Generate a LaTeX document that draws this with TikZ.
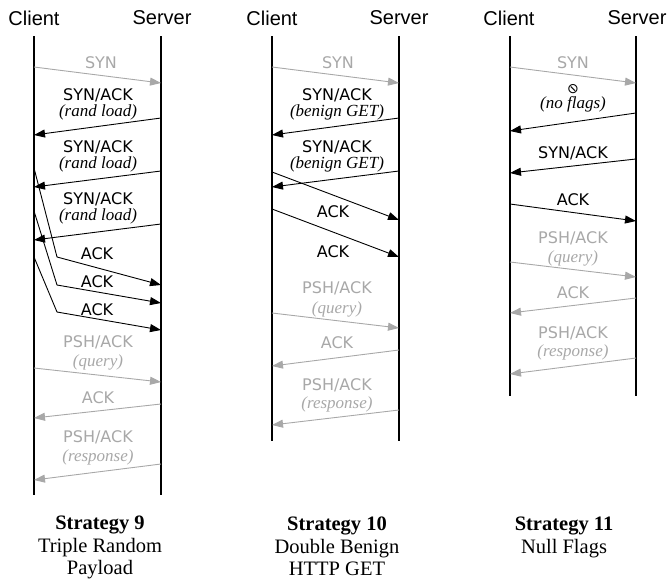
\documentclass[tikz,border=0pt]{standalone}
\usepackage{fontspec}
\setmainfont{Liberation Serif}
\newfontfamily\peerfont{Liberation Sans}
\newfontfamily\flagfont{DejaVu Sans}
\usetikzlibrary{arrows.meta,calc}
\definecolor{pale}{RGB}{168,168,168}

\begin{document}
\begin{tikzpicture}[x=1pt,y=-1pt]
	\tikzstyle{lifeline}=[line width=1.1pt];
	\tikzstyle{msg}=[line width=0.9pt, -{Triangle[length=11pt,width=8pt]}];
	\tikzstyle{faint}=[msg, pale];
	\tikzstyle{peer}=[font=\peerfont\fontsize{20}{24}\selectfont, inner sep=0pt];
	\tikzstyle{flag}=[font=\flagfont\fontsize{16}{19}\selectfont, inner sep=0pt];
	\tikzstyle{note}=[font=\itshape\fontsize{17}{20}\selectfont, inner sep=0pt];
	\tikzstyle{caption}=[font=\fontsize{20.5}{22.5}\selectfont, align=center, anchor=north, inner sep=0pt];

	\useasboundingbox (0,0) rectangle (667,584);

	\node[peer] (cl9) at (34,18) {Client};
	\node[peer] (sv9) at (162,18) {Server};
	\node[peer] (cl10) at (272,18) {Client};
	\node[peer] (sv10) at (399,18) {Server};
	\node[peer] (cl11) at (509,18) {Client};
	\node[peer] (sv11) at (637,18) {Server};

	% strategy 9
	\coordinate (c9_top) at (34,36);
	\coordinate (c9_bot) at (34,495);
	\coordinate (s9_top) at (161,36);
	\coordinate (s9_bot) at (161,495);
	\draw[lifeline] (c9_top) -- (c9_bot);
	\draw[lifeline] (s9_top) -- (s9_bot);

	\coordinate (c9_1) at (34,67);   \coordinate (s9_1) at (161,83);
	\coordinate (s9_2) at (161,118); \coordinate (c9_2) at (34,135);
	\coordinate (s9_3) at (161,171); \coordinate (c9_3) at (34,187);
	\coordinate (s9_4) at (161,224); \coordinate (c9_4) at (34,240);
	\coordinate (c9_5) at (34,168);  \coordinate (k9_5) at (57,257);  \coordinate (s9_5) at (161,285);
	\coordinate (c9_6) at (34,211);  \coordinate (k9_6) at (57,285);  \coordinate (s9_6) at (161,303);
	\coordinate (c9_7) at (34,257);  \coordinate (k9_7) at (57,312);  \coordinate (s9_7) at (161,330);
	\coordinate (c9_8) at (34,368);  \coordinate (s9_8) at (161,382);
	\coordinate (s9_9) at (161,404); \coordinate (c9_9) at (34,418);
	\coordinate (s9_10) at (161,464); \coordinate (c9_10) at (34,480);

	\draw[faint] (c9_1) -- (s9_1);
	\draw[msg] (s9_2) -- (c9_2);
	\draw[msg] (s9_3) -- (c9_3);
	\draw[msg] (s9_4) -- (c9_4);
	\draw[msg] (c9_5) -- (k9_5) -- (s9_5);
	\draw[msg] (c9_6) -- (k9_6) -- (s9_6);
	\draw[msg] (c9_7) -- (k9_7) -- (s9_7);
	\draw[faint] (c9_8) -- (s9_8);
	\draw[faint] (s9_9) -- (c9_9);
	\draw[faint] (s9_10) -- (c9_10);

	\node[flag, pale] (f9_1) at (101,63) {SYN};
	\node[flag] (f9_2) at (98,95) {SYN/ACK};
	\node[note] (n9_2) at ($(f9_2)+(0,17)$) {(rand load)};
	\node[flag] (f9_3) at (98,147) {SYN/ACK};
	\node[note] (n9_3) at ($(f9_3)+(0,17)$) {(rand load)};
	\node[flag] (f9_4) at (98,199) {SYN/ACK};
	\node[note] (n9_4) at ($(f9_4)+(0,17)$) {(rand load)};
	\node[flag] (f9_5) at (97,254) {ACK};
	\node[flag] (f9_6) at (97,282) {ACK};
	\node[flag] (f9_7) at (97,310) {ACK};
	\node[flag, pale] (f9_8) at (98,342) {PSH/ACK};
	\node[note, pale] (n9_8) at ($(f9_8)+(0,20)$) {(query)};
	\node[flag, pale] (f9_9) at (98,398) {ACK};
	\node[flag, pale] (f9_10) at (98,437) {PSH/ACK};
	\node[note, pale] (n9_10) at ($(f9_10)+(0,20)$) {(response)};

	\node[caption] (cap9) at (100,516) {\textbf{Strategy 9}\\Triple Random\\Payload};

	% strategy 10
	\coordinate (c10_top) at (272,36);
	\coordinate (c10_bot) at (272,441);
	\coordinate (s10_top) at (399,36);
	\coordinate (s10_bot) at (399,441);
	\draw[lifeline] (c10_top) -- (c10_bot);
	\draw[lifeline] (s10_top) -- (s10_bot);

	\coordinate (c10_1) at (272,67);  \coordinate (s10_1) at (399,83);
	\coordinate (s10_2) at (399,118); \coordinate (c10_2) at (272,135);
	\coordinate (s10_3) at (399,171); \coordinate (c10_3) at (272,187);
	\coordinate (c10_4) at (272,172); \coordinate (s10_4) at (399,220);
	\coordinate (c10_5) at (272,209); \coordinate (s10_5) at (399,257);
	\coordinate (c10_6) at (272,313); \coordinate (s10_6) at (399,328);
	\coordinate (s10_7) at (399,350); \coordinate (c10_7) at (272,366);
	\coordinate (s10_8) at (399,410); \coordinate (c10_8) at (272,425);

	\draw[faint] (c10_1) -- (s10_1);
	\draw[msg] (s10_2) -- (c10_2);
	\draw[msg] (s10_3) -- (c10_3);
	\draw[msg] (c10_4) -- (s10_4);
	\draw[msg] (c10_5) -- (s10_5);
	\draw[faint] (c10_6) -- (s10_6);
	\draw[faint] (s10_7) -- (c10_7);
	\draw[faint] (s10_8) -- (c10_8);

	\node[flag, pale] (f10_1) at (338,63) {SYN};
	\node[flag] (f10_2) at (337,95) {SYN/ACK};
	\node[note] (n10_2) at ($(f10_2)+(0,17)$) {(benign GET)};
	\node[flag] (f10_3) at (337,147) {SYN/ACK};
	\node[note] (n10_3) at ($(f10_3)+(0,17)$) {(benign GET)};
	\node[flag] (f10_4) at (333,212) {ACK};
	\node[flag] (f10_5) at (333,252) {ACK};
	\node[flag, pale] (f10_6) at (337,288) {PSH/ACK};
	\node[note, pale] (n10_6) at ($(f10_6)+(0,21)$) {(query)};
	\node[flag, pale] (f10_7) at (337,343) {ACK};
	\node[flag, pale] (f10_8) at (337,385) {PSH/ACK};
	\node[note, pale] (n10_8) at ($(f10_8)+(0,19)$) {(response)};

	\node[caption] (cap10) at (337,517) {\textbf{Strategy 10}\\Double Benign\\HTTP GET};

	% strategy 11
	\coordinate (c11_top) at (510,36);
	\coordinate (c11_bot) at (510,396);
	\coordinate (s11_top) at (636,36);
	\coordinate (s11_bot) at (636,396);
	\draw[lifeline] (c11_top) -- (c11_bot);
	\draw[lifeline] (s11_top) -- (s11_bot);

	\coordinate (c11_1) at (510,67);  \coordinate (s11_1) at (636,83);
	\coordinate (s11_2) at (636,113); \coordinate (c11_2) at (510,131);
	\coordinate (s11_3) at (636,159); \coordinate (c11_3) at (510,173);
	\coordinate (c11_4) at (510,204); \coordinate (s11_4) at (636,221);
	\coordinate (c11_5) at (510,262); \coordinate (s11_5) at (636,277);
	\coordinate (s11_6) at (636,298); \coordinate (c11_6) at (510,313);
	\coordinate (s11_7) at (636,358); \coordinate (c11_7) at (510,374);

	\draw[faint] (c11_1) -- (s11_1);
	\draw[msg] (s11_2) -- (c11_2);
	\draw[msg] (s11_3) -- (c11_3);
	\draw[msg] (c11_4) -- (s11_4);
	\draw[faint] (c11_5) -- (s11_5);
	\draw[faint] (s11_6) -- (c11_6);
	\draw[faint] (s11_7) -- (c11_7);

	\node[flag, pale] (f11_1) at (573,63) {SYN};
	\node[flag, font=\flagfont\fontsize{14}{16}\selectfont] (f11_2) at (573,89) {\reflectbox{⊘}};
	\node[note] (n11_2) at ($(f11_2)+(0,15)$) {(no flags)};
	\node[flag] (f11_3) at (573,153) {SYN/ACK};
	\node[flag] (f11_4) at (573,200) {ACK};
	\node[flag, pale] (f11_5) at (573,238) {PSH/ACK};
	\node[note, pale] (n11_5) at ($(f11_5)+(0,20)$) {(query)};
	\node[flag, pale] (f11_6) at (573,293) {ACK};
	\node[flag, pale] (f11_7) at (573,333) {PSH/ACK};
	\node[note, pale] (n11_7) at ($(f11_7)+(0,19)$) {(response)};

	\node[caption] (cap11) at (564,517) {\textbf{Strategy 11}\\Null Flags};
\end{tikzpicture}
\end{document}
